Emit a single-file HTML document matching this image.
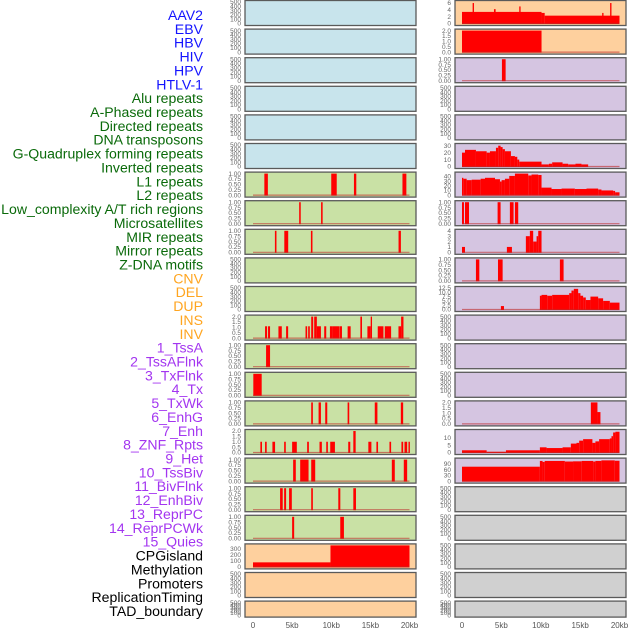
<!DOCTYPE html>
<html><head><meta charset="utf-8"><style>
html,body{margin:0;padding:0;background:#fff;width:630px;height:630px;overflow:hidden}
svg{display:block}
.lab{font-family:"Liberation Sans",sans-serif;font-size:14.1px}
.tk{font-family:"Liberation Sans",sans-serif;font-size:6.5px;fill:#666}
.ax{font-family:"Liberation Sans",sans-serif;font-size:8px;fill:#555}
</style></head><body>
<svg id="chart" width="630" height="630"></svg>
<script>
const labels=["AAV2","EBV","HBV","HIV","HPV","HTLV-1","Alu repeats","A-Phased repeats","Directed repeats","DNA transposons","G-Quadruplex forming repeats","Inverted repeats","L1 repeats","L2 repeats","Low_complexity A/T rich regions","Microsatellites","MIR repeats","Mirror repeats","Z-DNA motifs","CNV","DEL","DUP","INS","INV","1_TssA","2_TssAFlnk","3_TxFlnk","4_Tx","5_TxWk","6_EnhG","7_Enh","8_ZNF_Rpts","9_Het","10_TssBiv","11_BivFlnk","12_EnhBiv","13_ReprPC","14_ReprPCWk","15_Quies","CPGisland","Methylation","Promoters","ReplicationTiming","TAD_boundary"];
const labelGroups=[6,13,5,15,5];
const groupColors=["#1414ff","#0a6a0a","#ffa520","#a335f0","#000000"];
const xTicks=[0,5,10,15,20];
const xTickLabels=["0","5kb","10kb","15kb","20kb"];
const T01=[0,0.25,0.5,0.75,1];const T01L=["0.00","0.25","0.50","0.75","1.00"];
const T02=[0,0.5,1,1.5,2];const T02L=["0.0","0.5","1.0","1.5","2.0"];
const TE=[0,100,200,300,400,500];const TEL=["0","100","200","300","400","500"];
const segL6=[[1.45,1.9,1],[10.0,10.7,1],[12.9,13.2,1],[19.1,19.6,1]];
const segL7=[[5.9,6.1,1],[8.7,8.9,1]];
const segL8=[[2.8,3.0,1],[4.0,4.5,1],[7.4,7.6,1],[18.6,18.9,1]];
const segL11=[[1.54,1.8,1.1],[1.92,2.18,1.1],[3.25,3.68,1.1],[4.23,4.49,1.1],[6.71,6.92,1.1],[7.05,7.26,1.1],[7.44,7.69,2],[7.82,8.16,2],[8.16,8.68,1.1],[9.1,9.36,1.1],[9.83,10.21,1.1],[10.21,11.03,1.1],[11.07,11.37,1.1],[12.09,12.48,1.1],[13.72,13.93,2],[14.62,15.04,1.1],[15.04,15.21,2],[15.94,16.67,1.1],[16.84,17.65,1.1],[18.59,18.93,1.1],[18.93,19.23,2]];
const segL12=[[1.67,2.18,1]];
const segL13=[[0.04,1.11,1]];
const segL14=[[7.44,7.65,1],[8.38,8.68,1],[9.23,9.49,1],[12.09,12.3,1],[15.56,15.9,1],[18.89,19.19,1]];
const segL15=[[0.94,1.15,1],[1.54,1.75,1],[2.48,2.82,1],[3.98,4.19,1],[5.0,5.6,1],[6.92,7.14,1],[8.5,8.8,1],[9.36,9.57,1],[9.87,10.47,1],[12.17,12.43,1],[12.82,13.12,2],[14.74,15.13,1],[15.77,15.98,1],[17.44,17.65,1],[18.97,19.19,1],[19.36,19.7,1],[19.87,20.05,1]];
const segL16=[[5.13,5.47,1],[6.03,7.1,1],[7.44,7.95,1],[17.74,18.12,1],[19.27,19.7,1]];
const segL17=[[3.46,3.8,1],[3.98,4.23,1],[4.61,4.96,1],[7.44,7.65,1],[10.9,11.16,1],[12.82,13.16,1]];
const segL18=[[5.0,5.26,1],[11.15,11.62,1]];
const segL19=[[0,9.9,75],[9.9,20,355]];
const segR0=[[0,10.1,3.4],[10.1,10.5,3.1],[10.5,20,2.3],[1.35,1.52,6],[4.06,4.27,4.2],[7.27,7.44,5],[17.8,17.97,3.1],[18.81,18.98,6]];
const segR1=[[0,10.1,2]];
const segR2=[[5.07,5.54,1]];
const segR5=[[0,0.38,20],[0.38,1.77,24],[1.77,3.13,22],[3.13,3.55,20],[3.55,4.31,22],[4.31,4.6,27],[4.6,4.9,30],[4.9,5.16,28],[5.16,5.45,25],[5.45,6.21,22],[6.21,6.72,15],[6.72,7.02,14],[7.02,7.27,10],[7.27,10.1,7],[10.1,11.03,3],[11.03,11.45,4],[11.45,12.77,6],[12.77,13.48,4],[13.48,14.41,3],[14.41,15.17,4],[15.17,16.02,3]];
const segR6=[[0,0.17,37],[0.17,0.59,35],[0.59,1.23,32],[1.23,2.37,33],[2.37,2.92,35],[2.92,4.19,37],[4.19,4.82,34],[4.82,5.03,29],[5.03,5.45,32],[5.45,6.0,35],[6.0,6.72,41],[6.72,8.41,46],[8.41,8.83,42],[8.83,9.68,44],[9.68,10.1,43],[10.1,11.37,16],[11.37,12.64,13],[12.64,14.33,14],[14.33,15.81,13],[15.81,17.29,14],[17.29,17.71,12],[17.71,19.19,10],[19.19,19.44,9],[19.44,20,6]];
const segR7=[[0,0.25,1],[0.38,0.89,1],[4.52,4.9,1],[6.08,6.55,1],[6.72,7.14,1]];
const segR8=[[0,0.38,1],[5.7,6.34,1],[8.11,8.62,3],[8.62,9.04,4],[9.04,9.47,2],[9.47,9.68,3],[9.68,10.1,4]];
const segR9=[[1.77,2.2,1],[4.57,5.16,1],[12.43,12.9,1]];
const segR10=[[4.94,5.33,2],[9.89,10.1,8],[10.1,10.82,8.5],[10.82,11.45,8],[11.45,13.61,8.5],[13.61,13.9,9.5],[13.9,14.2,11],[14.2,14.75,12],[14.75,15.04,9.5],[15.04,15.38,8],[15.38,15.72,7],[15.72,16.31,5.5],[16.31,17.29,7.5],[17.29,17.92,6.5],[17.92,18.77,5],[18.77,20,4]];
const segR14=[[16.36,17.2,2],[17.2,17.58,1.1]];
const segR15=[[0,3.13,1.5],[3.13,5.58,0.5],[5.58,9.89,1.5],[9.89,10.74,3.5],[10.74,12.77,3],[12.77,13.82,3.5],[13.82,14.54,6],[14.54,14.88,6.5],[14.88,15.38,8],[15.38,16.56,9],[16.56,16.94,6.5],[16.94,17.41,7.5],[17.41,18.77,9],[18.77,18.98,9.5],[18.98,19.19,11],[19.19,19.48,13.5],[19.48,20,14]];
const segR16=[[0,9.89,75],[9.89,10.23,105],[10.23,10.5,100],[10.5,13.06,105],[13.06,14.1,102],[14.1,15.2,103],[15.2,16.65,105],[16.65,16.94,102],[16.94,17.7,105],[17.7,19.4,108],[19.4,20,106]];

const BG={b:"#c8e4ec",p:"#fed09e",l:"#d5c5e1",g:"#c9e1a5",y:"#d0d0d0"};
const leftBg="bbbbbbgggggggggggggppp";
const rightBg="ppllllllllllllllllyyyyy".slice(0,17)+"yyyyy";
const leftCfg={6:[segL6,1,T01,T01L],7:[segL7,1,T01,T01L],8:[segL8,1,T01,T01L],11:[segL11,2,T02,T02L],12:[segL12,1,T01,T01L],13:[segL13,1,T01,T01L],14:[segL14,1,T01,T01L],15:[segL15,2,T02,T02L],16:[segL16,1,T01,T01L],17:[segL17,1,T01,T01L],18:[segL18,1,T01,T01L],19:[segL19,355,[0,100,200,300],["0","100","200","300"]]};
const rightCfg={0:[segR0,6.3,[0,2,4,6],["0","2","4","6"]],1:[segR1,2,T02,T02L],2:[segR2,1,T01,T01L],5:[segR5,31,[0,10,20,30],["0","10","20","30"]],6:[segR6,46,[0,10,20,30,40],["0","10","20","30","40"]],7:[segR7,1,T01,T01L],8:[segR8,4,[0,1,2,3,4],["0","1","2","3","4"]],9:[segR9,1,T01,T01L],10:[segR10,12.5,[0,2.5,5,7.5,10,12.5],["0.0","2.5","5.0","7.5","10.0","12.5"]],14:[segR14,2,T02,T02L],15:[segR15,14.5,[0,5,10],["0","5","10"]],16:[segR16,112,[0,30,60,90],["0","30","60","90"]]};

const svg=document.getElementById('chart');
const NS="http://www.w3.org/2000/svg";
function mk(tag,attrs,parent){const e=document.createElementNS(NS,tag);for(const k in attrs)e.setAttribute(k,attrs[k]);(parent||svg).appendChild(e);return e;}

let gi=0,cnt=0;
labels.forEach((t,i)=>{
  while(cnt>=labelGroups[gi]){cnt=0;gi++;}
  cnt++;
  const e=mk('text',{x:203,y:15+13.86*i+5,'text-anchor':'end',class:'lab',fill:groupColors[gi]});
  e.textContent=t;
  
  
});

const cols=[{px:245,w:171,x0:253,x20:409.5,bg:leftBg,cfg:leftCfg,name:'left'},{px:455,w:171,x0:462,x20:619.5,bg:rightBg,cfg:rightCfg,name:'right'}];
for(const c of cols){
  const xs=v=>c.x0+(v/20)*(c.x20-c.x0);
  for(let r=0;r<22;r++){
    const top=r*28.6+0.5, h=(r===21)?16:25;
    const g=mk('g',{});
    
    
    mk('rect',{x:c.px,y:top,width:c.w,height:h,fill:BG[c.bg[r]],stroke:'#5a5a5a','stroke-width':1.3},g);
    const cfg=c.cfg[r];
    const bot=top+h-2, span=h-3.5;
    let ymax=500,ticks=TE,tl=TEL;
    if(cfg){ymax=cfg[1];ticks=cfg[2];tl=cfg[3];}
    const ys=v=>bot-(Math.min(v,ymax)/ymax)*span;
    ticks.forEach((t,k)=>{
      const e=mk('text',{x:c.px-4,y:ys(t)+2.2,'text-anchor':'end',class:'tk'},g);
      e.textContent=tl[k];
      
      
    });
    if(cfg){
      for(const s of cfg[0]){
        const b=mk('rect',{x:xs(s[0]),y:ys(s[2]),width:Math.max(xs(s[1])-xs(s[0]),1.2),height:bot-ys(s[2])+0.5,fill:'#ff0000'},g);
        
        
      }
      mk('line',{x1:xs(0),x2:xs(20),y1:bot,y2:bot,stroke:'rgba(190,40,40,0.6)','stroke-width':1.2},g);
    }
  }
  xTicks.forEach((t,k)=>{
    const e=mk('text',{x:xs(t),y:628,'text-anchor':'middle',class:'ax'});
    e.textContent=xTickLabels[k];
    
    
  });
}
</script>
</body></html>
